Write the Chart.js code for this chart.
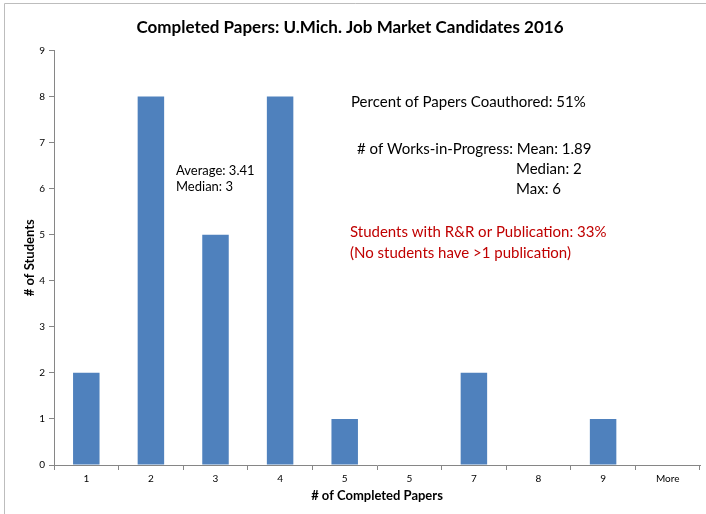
<!DOCTYPE html>
<html>
<head>
<meta charset="utf-8">
<script src="https://cdn.jsdelivr.net/npm/chart.js@4"></script>
<style>
  body { margin: 0; background: #fff; }
  canvas { display: block; }
</style>
</head>
<body>
<canvas id="papersChart" width="706" height="514"></canvas>
<script>
// Data
const categories = ['1', '2', '3', '4', '5', '5', '7', '8', '9', 'More'];
const students = [2, 8, 5, 8, 1, 0, 2, 0, 1, 0];
const yTicks = [0, 1, 2, 3, 4, 5, 6, 7, 8, 9];

const FONT = 'Lato, "Open Sans", sans-serif';

// Frame + text boxes drawn on top of the chart
const notesPlugin = {
    id: 'notes',
    afterDraw(chart) {
        const ctx = chart.ctx;
        ctx.save();
        // outer frame
        ctx.strokeStyle = '#bdbdbd';
        ctx.lineWidth = 1;
        ctx.beginPath();
        ctx.moveTo(4.5, 514);
        ctx.lineTo(4.5, 3.5);
        ctx.lineTo(706, 3.5);
        ctx.stroke();

        ctx.textBaseline = 'middle';
        ctx.textAlign = 'left';
        ctx.fillStyle = '#000';
        ctx.font = '13px ' + FONT;
        ctx.fillText('Average: 3.41', 176, 171);
        ctx.fillText('Median: 3', 176, 187);

        ctx.font = '15px ' + FONT;
        ctx.fillText('Percent of Papers Coauthored: 51%', 351, 102);
        ctx.fillText('# of Works-in-Progress: Mean: 1.89', 357, 149);
        ctx.fillText('Median: 2', 516, 169);
        ctx.fillText('Max: 6', 516, 189);

        ctx.fillStyle = '#c00000';
        ctx.fillText('Students with R&R or Publication: 33%', 350, 232);
        ctx.fillText('(No students have >1 publication)', 350, 253);
        ctx.restore();
    }
};

document.addEventListener('DOMContentLoaded', function() {
    const ctx = document.getElementById('papersChart').getContext('2d');
    new Chart(ctx, {
        type: 'bar',
        data: {
            labels: categories,
            datasets: [{
                label: '# of Students',
                data: students,
                backgroundColor: '#4f81bd',
                barPercentage: 0.41,
                categoryPercentage: 1
            }]
        },
        options: {
            responsive: false,
            animation: false,
            layout: { padding: { left: 0, right: 6, top: 0, bottom: 0 } },
            plugins: {
                legend: { display: false },
                tooltip: { enabled: false },
                title: {
                    display: true,
                    text: 'Completed Papers: U.Mich. Job Market Candidates 2016',
                    color: '#000',
                    font: { family: FONT, size: 17, weight: 'bold' },
                    padding: { top: 17, bottom: 13 }
                }
            },
            scales: {
                x: {
                    afterFit(scale) { scale.height = 49; },
                    grid: {
                        offset: true,
                        drawOnChartArea: false,
                        tickLength: 5,
                        color: '#868686'
                    },
                    border: { color: '#868686' },
                    ticks: {
                        color: '#000',
                        padding: 3,
                        maxRotation: 0,
                        font: { family: FONT, size: 10 }
                    },
                    title: {
                        display: true,
                        text: '# of Completed Papers',
                        color: '#000',
                        font: { family: FONT, size: 13, weight: 'bold' },
                        padding: { top: 0, bottom: 10 }
                    }
                },
                y: {
                    min: 0,
                    max: 9,
                    afterFit(scale) { scale.width = 54; },
                    afterBuildTicks(scale) {
                        scale.ticks = yTicks.map(v => ({ value: v }));
                    },
                    grid: {
                        drawOnChartArea: false,
                        tickLength: 5,
                        color: '#868686'
                    },
                    border: { color: '#868686' },
                    ticks: {
                        color: '#000',
                        padding: 4,
                        font: { family: FONT, size: 10 }
                    },
                    title: {
                        display: true,
                        text: '# of Students',
                        color: '#000',
                        font: { family: FONT, size: 13, weight: 'bold' },
                        padding: { top: 22, bottom: 0 }
                    }
                }
            }
        },
        plugins: [notesPlugin]
    });
});
</script>
</body>
</html>
